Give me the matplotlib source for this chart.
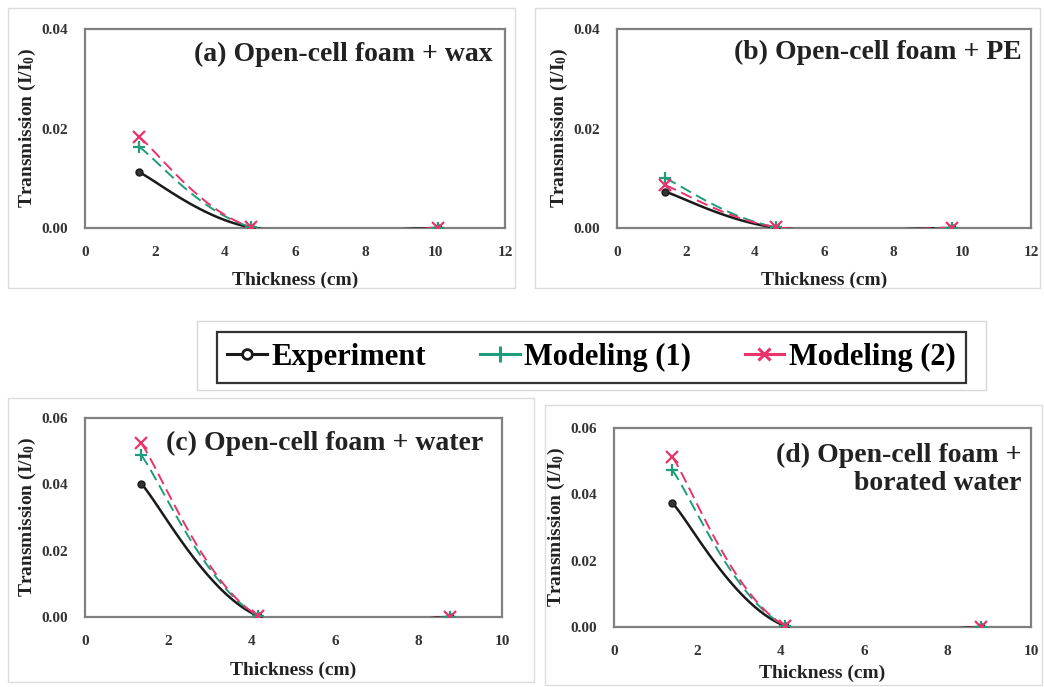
import numpy as np
import matplotlib
matplotlib.use("Agg")
import matplotlib.pyplot as plt
from matplotlib.patches import Rectangle
from matplotlib.lines import Line2D

plt.rcParams["font.family"] = ["Liberation Serif", "DejaVu Serif"]
plt.rcParams["font.weight"] = "bold"
plt.rcParams["mathtext.fontset"] = "custom"
plt.rcParams["mathtext.rm"] = "Liberation Serif:bold"
plt.rcParams["mathtext.bf"] = "Liberation Serif:bold"
plt.rcParams["mathtext.it"] = "Liberation Serif:bold"

# ---- data -------------------------------------------------------------
series_labels = ["Experiment", "Modeling (1)", "Modeling (2)"]

titles = ["(a) Open-cell foam + wax",
          "(b) Open-cell foam + PE",
          "(c) Open-cell foam + water",
          "(d) Open-cell foam +\nborated water"]

thick_a = [1.55, 4.75, 10.1]
exp_a = [0.0112, 0.0001, 0.0000]
mod1_a = [0.0163, 0.0002, 0.0000]
mod2_a = [0.0183, 0.0002, 0.0000]

thick_b = [1.4, 4.6, 9.7]
exp_b = [0.0073, 0.0001, 0.0000]
mod1_b = [0.0100, 0.0002, 0.0000]
mod2_b = [0.0086, 0.0002, 0.0000]

thick_c = [1.35, 4.15, 8.75]
exp_c = [0.0402, 0.0003, 0.0000]
mod1_c = [0.0488, 0.0004, 0.0000]
mod2_c = [0.0524, 0.0004, 0.0000]

thick_d = [1.4, 4.1, 8.8]
exp_d = [0.0374, 0.0003, 0.0000]
mod1_d = [0.0473, 0.0004, 0.0000]
mod2_d = [0.0513, 0.0004, 0.0000]

xmax = [12, 12, 10, 10]
ymax = [0.04, 0.04, 0.06, 0.06]
xticks = [[0, 2, 4, 6, 8, 10, 12], [0, 2, 4, 6, 8, 10, 12],
          [0, 2, 4, 6, 8, 10], [0, 2, 4, 6, 8, 10]]
yticks = [[0.00, 0.02, 0.04], [0.00, 0.02, 0.04],
          [0.00, 0.02, 0.04, 0.06], [0.00, 0.02, 0.04, 0.06]]

panels = [
    (thick_a, exp_a, mod1_a, mod2_a),
    (thick_b, exp_b, mod1_b, mod2_b),
    (thick_c, exp_c, mod1_c, mod2_c),
    (thick_d, exp_d, mod1_d, mod2_d),
]

# ---- styling ----------------------------------------------------------
C_EXP = "#1a1a1a"
C_M1 = "#1f9c7c"
C_M2 = "#e8336b"
FRAME = "#808080"
TXT = "#222222"

axes_rects = [
    [0.0814, 0.6681, 0.4023, 0.2897],
    [0.5910, 0.6681, 0.3966, 0.2897],
    [0.0814, 0.1019, 0.3994, 0.2897],
    [0.5881, 0.0873, 0.3994, 0.2897],
]
title_pos = [(0.97, 0.87), (0.978, 0.88), (0.955, 0.874), (0.978, 0.794)]
xlabel_pad = [9, 9, 10, 5]


def smooth(x, y, n=60):
    """Bezier smoothing through the points (spreadsheet-style smoothed line)."""
    x = np.asarray(x, float)
    y = np.asarray(y, float)
    px = np.concatenate([[x[0]], x, [x[-1]]])
    py = np.concatenate([[y[0]], y, [y[-1]]])
    xs, ys = [], []
    t = np.linspace(0, 1, n)
    for i in range(1, len(px) - 2):
        p0 = np.array([px[i], py[i]])
        p3 = np.array([px[i + 1], py[i + 1]])
        p1 = p0 + (np.array([px[i + 1], py[i + 1]]) - np.array([px[i - 1], py[i - 1]])) / 6
        p2 = p3 - (np.array([px[i + 2], py[i + 2]]) - np.array([px[i], py[i]])) / 6
        b = ((1 - t) ** 3)[:, None] * p0 + (3 * (1 - t) ** 2 * t)[:, None] * p1 \
            + (3 * (1 - t) * t ** 2)[:, None] * p2 + (t ** 3)[:, None] * p3
        xs.append(b[:, 0])
        ys.append(b[:, 1])
    return np.concatenate(xs), np.concatenate(ys)


fig = plt.figure(figsize=(10.44, 6.87), dpi=100)
fig.patch.set_facecolor("white")

# faint chart-area frames
for (x0, y0, x1, y1) in [(8, 8, 515, 288), (535, 8, 1040, 288),
                         (8, 398, 534, 682), (545, 405, 1042, 685)]:
    fig.add_artist(Rectangle((x0 / 1044, 1 - y1 / 687), (x1 - x0) / 1044,
                             (y1 - y0) / 687, transform=fig.transFigure,
                             fill=False, edgecolor="#dcdcdc", linewidth=1.0))

for k, (rect, (tx, e, m1, m2)) in enumerate(zip(axes_rects, panels)):
    ax = fig.add_axes(rect)
    ax.set_xlim(0, xmax[k])
    ax.set_ylim(0, ymax[k])

    sx, sy = smooth(tx, e)
    ax.plot(sx, sy, color=C_EXP, lw=1.8, zorder=3)
    ax.plot(tx, e, ls="none", marker="o", ms=5, mfc="#333333", mec=C_EXP, zorder=4)

    sx, sy = smooth(tx, m1)
    ax.plot(sx, sy, color=C_M1, lw=1.4, ls=(0, (6, 3)), zorder=3)
    ax.plot(tx, m1, ls="none", marker="+", ms=9, mew=1.6, color=C_M1, zorder=4)

    sx, sy = smooth(tx, m2)
    ax.plot(sx, sy, color=C_M2, lw=1.4, ls=(0, (6, 3)), zorder=3)
    ax.plot(tx, m2, ls="none", marker="x", ms=8, mew=1.6, color=C_M2, zorder=4)

    for s in ax.spines.values():
        s.set_color(FRAME)
        s.set_linewidth(1.6)
    ax.set_xticks(xticks[k])
    ax.set_yticks(yticks[k])
    ax.set_yticklabels([f"{v:.2f}" for v in yticks[k]])
    ax.tick_params(length=0, labelsize=11, labelcolor="#333333", pad=12)
    ax.tick_params(axis="x", pad=13)
    ax.set_xlabel("Thickness (cm)", fontsize=14, fontweight="bold", color=TXT,
                  labelpad=xlabel_pad[k])
    ax.set_ylabel(r"Transmission (I/I$_{\mathrm{0}}$)", fontsize=14, fontweight="bold",
                  color=TXT, labelpad=3)
    ax.text(title_pos[k][0], title_pos[k][1], titles[k], transform=ax.transAxes,
            ha="right", va="center", fontsize=20, fontweight="bold", color=TXT,
            linespacing=1.15)

# outer light frame around the legend
fig.add_artist(Rectangle((197 / 1044, 1 - 390 / 687), (986 - 197) / 1044, 69 / 687,
                         transform=fig.transFigure, fill=False,
                         edgecolor="#d8d8d8", linewidth=1.0))

handles = [
    Line2D([], [], color=C_EXP, lw=2.2, marker="o", ms=7, mfc="white", mec=C_EXP, mew=2),
    Line2D([], [], color=C_M1, lw=2.2, marker="+", ms=11, mew=2.2),
    Line2D([], [], color=C_M2, lw=2.2, marker="x", ms=9, mew=2.2),
]
leg = fig.legend(handles, series_labels, loc="center",
                 bbox_to_anchor=(0.5666, 0.4796), ncol=3, frameon=True,
                 fancybox=False, edgecolor="#333333", framealpha=1,
                 prop={"family": "Liberation Serif", "weight": "bold", "size": 22},
                 handlelength=1.3, handletextpad=0.15, columnspacing=1.75,
                 borderpad=0.35, borderaxespad=0)
leg.get_frame().set_linewidth(1.6)

fig.savefig("out.png", dpi=100, facecolor="white")
